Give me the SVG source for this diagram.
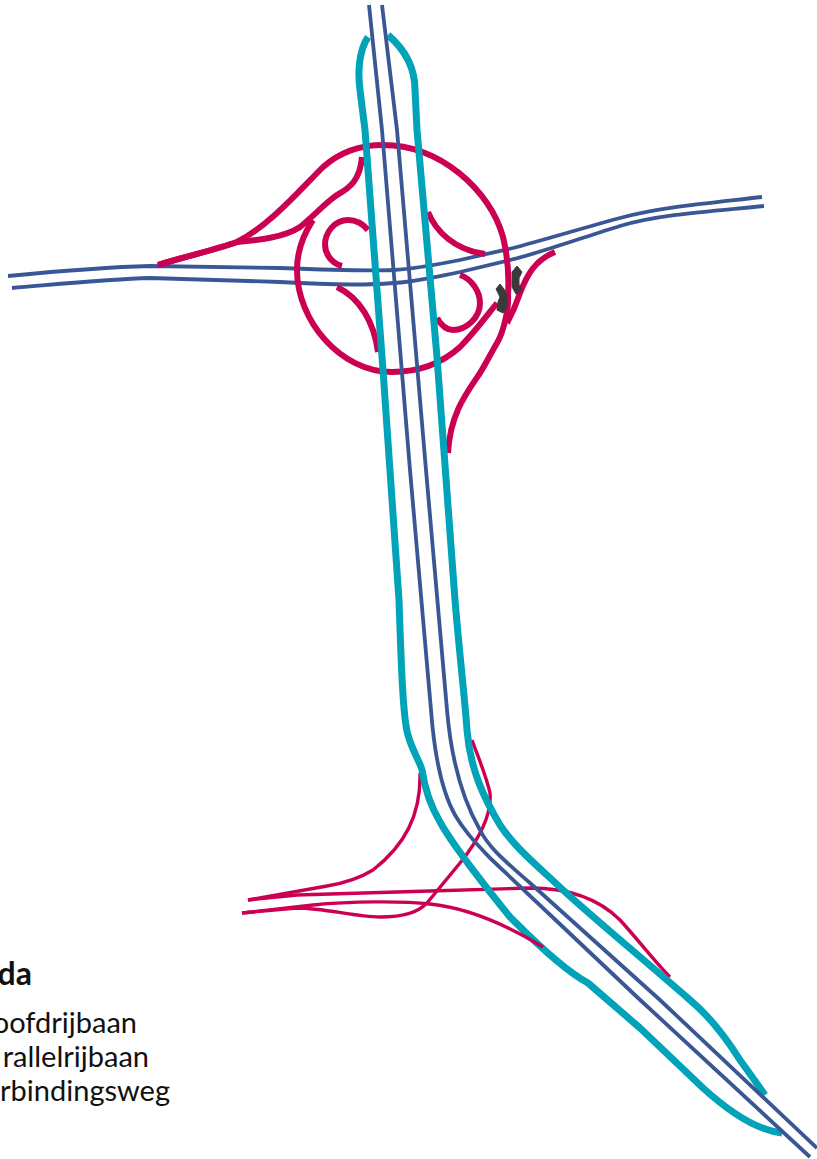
<svg xmlns="http://www.w3.org/2000/svg" width="817" height="1159" viewBox="0 0 817 1159">
<style>
path{fill:none;stroke-linecap:butt;stroke-linejoin:round}
.blue{stroke:#3a5795;stroke-width:3.8}
.teal{stroke:#00a3b8;stroke-width:7}
.red{stroke:#cc0052;stroke-width:6}
.thin{stroke:#cc0052;stroke-width:3.4}
.dark{fill:#3a3a3a;stroke:#3a3a3a;stroke-width:1;stroke-linejoin:round}
text{font-family:Lato,"Open Sans","DejaVu Sans",sans-serif;fill:#111;text-anchor:end}
.h{font-size:32px;font-weight:700}
.l{font-size:29px}
</style>
<rect width="817" height="1159" fill="#fff"/>
<g id="dwarsweg">
<path class="blue" d="M8 276 C60 271 110 267 150 266 L280 268 C330 270 370 271 393 270 C415 269 435 265 460 260 L513 248 C540 241 590 226 620 218 C660 207 710 203 762 197"/>
<path class="blue" d="M12 288 C60 284 110 279 150 278 L280 282 C330 285 370 285 393 283 C415 282 435 277 460 272 L510 260 C540 253 590 235 620 226 C660 214 715 211 764 206"/>
</g>
<g id="verbindingswegen-noord">
<path class="red" d="M158 265 C190 255 215 250 237 242 C270 225 300 190 323 167 C340 152 360 145 383 145 C440 145 490 190 503 237 C508 258 509 280 508 295 C509 310 503 333 497 343 C490 355 485 365 480 373 C465 395 450 415 448 453"/>
<path class="red" d="M158 265 C190 255 215 250 237 242 C260 240 285 237 300 227 C315 215 325 203 337 195 C350 188 360 180 362 157"/>
<path class="red" d="M313 220 C303 235 297 252 297 270 C297 320 340 372 392 372 C415 372 440 365 460 347 C475 332 485 318 497 303"/>
<path class="red" d="M555 252 C535 260 527 275 520 293 C517 302 513 312 507 323"/>
<path class="red" d="M342 266 C330 263 325 252 325 245 C325 232 335 220 348 220 C356 220 363 224 368 230"/>
<path class="red" d="M460 275 C472 279 480 292 480 303 C480 318 466 330 453 330 C447 330 441 325 437 318"/>
<path class="red" d="M428 212 C436 232 455 250 485 254"/>
<path class="red" d="M337 287 C360 298 374 322 378 352"/>
</g>
<g id="verbindingswegen-zuid">
<path class="thin" d="M420 773 C421 815 405 845 373 870 C360 878 345 883 327 886 L248 900"/>
<path class="thin" d="M248 900 L297 895 L430 891 L530 888 C570 888 600 900 620 920 C640 942 655 962 670 977"/>
<path class="thin" d="M242 913 L297 908 C325 908 355 917 380 917 C405 917 418 912 427 903 L460 863 C480 838 492 815 490 793 C486 775 478 757 472 740"/>
</g>
<g id="viaduct">
<polygon class="dark" points="500,284 504,289 507,295 507,307 503,313 497,310 498,302 500,297 496,289"/>
<polygon class="dark" points="517,266 522,272 519,278 519,285 522,290 516,294 512,287 512,277 512,272"/>
</g>
<g id="parallelrijbaan">
<path class="teal" d="M368 37 C358 52 358 75 360 90 L365 130 L383 370 L399 600 C401 660 403 720 408 735 C412 750 420 762 422 770 C425 790 430 805 440 822 C450 840 480 880 510 917 C525 932 560 968 588 983 L640 1028 L703 1088 C725 1108 755 1130 782 1133"/>
<path class="teal" d="M388 35 C402 47 415 65 415 90 L417 130 L437 357 L455 600 C460 660 465 700 467 730 C470 770 485 800 500 825 C515 848 540 868 563 890 C590 915 650 965 690 1000 C708 1015 723 1033 740 1060 L765 1095"/>
</g>
<g id="verbindingsweg-afrit">
<path class="thin" d="M242 913 L313 905 C350 901 405 901 430 904 C470 908 510 927 543 947"/>
</g>
<g id="hoofdrijbaan">
<path class="blue" d="M369 5 L382 130 L410 470 L431 710 C434 750 441 790 455 815 C465 832 475 842 490 858 L563 927 L637 997 L810 1157"/>
<path class="blue" d="M382 5 L397 130 L426 470 L447 710 C450 745 457 790 480 830 C490 850 510 865 530 883 L660 1000 L817 1148"/>
</g>
<g id="legenda">
<text class="h" x="32" y="985">da</text>
<text class="l" x="137" y="1033">oofdrijbaan</text>
<text class="l" x="149" y="1067">rallelrijbaan</text>
<text class="l" x="170" y="1101">rbindingsweg</text>
</g>
</svg>
